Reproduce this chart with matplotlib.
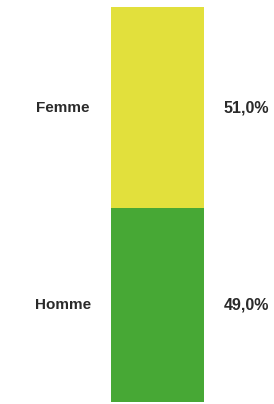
import matplotlib
matplotlib.use("Agg")
import matplotlib.pyplot as plt

# --- data ---
categories = ["Homme", "Femme"]
shares = [49.0, 51.0]
colors = ["#47A835", "#E2E03C"]

plt.rcParams["font.family"] = ["Liberation Sans", "DejaVu Sans"]

fig = plt.figure(figsize=(2.74, 4.04), dpi=100)
ax = fig.add_axes([111 / 274, 2 / 404, 93 / 274, 395 / 404])

bottom = 0
for cat, val, col in zip(categories, shares, colors):
    ax.bar(0, val, width=1.0, bottom=bottom, color=col, edgecolor="none")
    mid = bottom + val / 2
    ax.text(-1.02, mid, cat, ha="center", va="center", fontsize=11,
            fontweight="bold", color="#2a2a2a", clip_on=False)
    ax.text(0.71, mid, f"{val:.1f}%".replace(".", ","), ha="left", va="center",
            fontsize=11.5, fontweight="bold", color="#2a2a2a", clip_on=False)
    bottom += val

ax.set_xlim(-0.5, 0.5)
ax.set_ylim(0, 100)
ax.axis("off")

fig.savefig("out.png", dpi=100)
